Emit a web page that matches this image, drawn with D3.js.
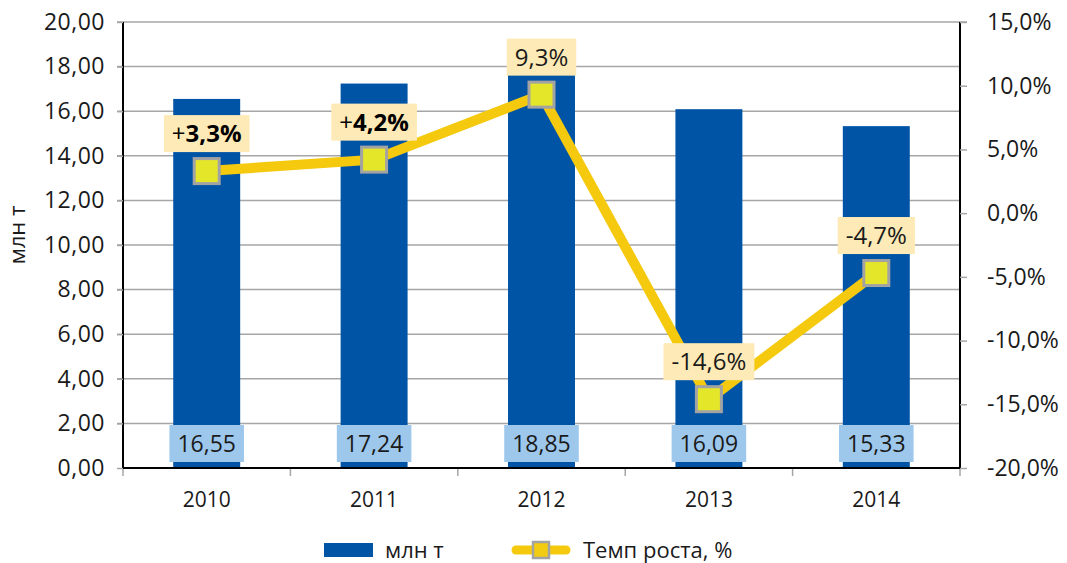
<!DOCTYPE html>
<html><head><meta charset="utf-8">
<script src="https://cdn.jsdelivr.net/npm/d3@7"></script>
<style>html,body{margin:0;padding:0;background:#fff;} svg{display:block;font-family:"Open Sans",sans-serif;}</style>
</head><body>
<svg id="c" width="1067" height="563"></svg>
<script>
const years = ["2010", "2011", "2012", "2013", "2014"];
const volumes = [16.55, 17.24, 18.85, 16.09, 15.33];
const growth = [3.3, 4.2, 9.3, -14.6, -4.7];
const growthPrefix = ["+", "+", "", "", ""];
const growthBold = [true, true, false, false, false];
const leftTicks = [0, 2, 4, 6, 8, 10, 12, 14, 16, 18, 20];
const rightTicks = [-20, -15, -10, -5, 0, 5, 10, 15];
const seriesNames = ["млн т", "Темп роста, %"];
const axisTitle = "млн т";

const loc = d3.formatLocale({decimal: ",", thousands: " ", grouping: [3], currency: ["", ""], minus: "-"});
const f2 = loc.format(".2f");
const f1 = loc.format(".1f");

const svg = d3.select("#c");
const L = 123, R = 960, T = 22, B = 468;

const x = d3.scaleBand().domain(years).range([L, R]).paddingInner(0.6).paddingOuter(0.3);
const y = d3.scaleLinear().domain([0, 20]).range([B, T]);
const y2 = d3.scaleLinear().domain([-20, 15]).range([B, T]);

const C = {bar: "#0054A6", line: "#F4C90E", grid: "#A6A6A6", valBox: "#9DC8EC", pctBox: "#FEEAB6", mk: "#E4E62A", mkStroke: "#A3A3A3", text: "#1a1a1a"};

// gridlines
svg.append("g").selectAll("line").data(leftTicks.filter(d => d > 0)).join("line")
  .attr("x1", L - 6).attr("x2", d => d === 20 ? R + 7 : R)
  .attr("y1", d => y(d)).attr("y2", d => y(d))
  .attr("stroke", C.grid).attr("stroke-width", 1.5);

// bars
svg.append("g").selectAll("rect").data(years).join("rect")
  .attr("x", d => x(d)).attr("width", x.bandwidth())
  .attr("y", (d, i) => y(volumes[i])).attr("height", (d, i) => B - y(volumes[i]))
  .attr("fill", C.bar);

// left axis
const gl = svg.append("g").attr("transform", `translate(${L},0)`)
  .call(d3.axisLeft(y).tickValues(leftTicks).tickFormat(f2).tickSize(6).tickPadding(12));
gl.select(".domain").attr("stroke", "#000").attr("stroke-width", 2).attr("d", `M0,${B}V${T}`);
gl.selectAll(".tick line").attr("stroke", C.grid).attr("stroke-width", 1.5);
gl.selectAll(".tick text").attr("font-size", 23).attr("fill", C.text).attr("font-family", "Open Sans").style("letter-spacing", "0.5px");

// right axis
const gr = svg.append("g").attr("transform", `translate(${R},0)`)
  .call(d3.axisRight(y2).tickValues(rightTicks).tickFormat(d => f1(d) + "%").tickSize(7).tickPadding(20));
gr.select(".domain").attr("stroke", "#000").attr("stroke-width", 2).attr("d", `M0,${B}V${T}`);
gr.selectAll(".tick line").attr("stroke", C.grid).attr("stroke-width", 1.5);
gr.selectAll(".tick text").attr("font-size", 23).attr("fill", C.text).attr("font-family", "Open Sans");

// bottom axis
const step = x.step();
const gb = svg.append("g").attr("transform", `translate(0,${B})`)
  .call(d3.axisBottom(x).tickSize(0).tickPadding(24));
gb.select(".domain").attr("stroke", "#000").attr("stroke-width", 2).attr("d", `M${L},0H${R}`);
gb.selectAll(".tick text").attr("font-size", 21).attr("fill", C.text).attr("font-family", "Open Sans");
svg.append("g").selectAll("line").data(d3.range(years.length + 1)).join("line")
  .attr("x1", i => L + i * step).attr("x2", i => L + i * step)
  .attr("y1", B).attr("y2", B + 8).attr("stroke", C.grid).attr("stroke-width", 1.5);
svg.append("path").attr("d", `M${L},${B}H${R}`).attr("stroke", "#000").attr("stroke-width", 2);

// value labels
const vg = svg.append("g").selectAll("g").data(years).join("g");
vg.each(function (d, i) {
  const g = d3.select(this);
  const cx = x(d) + x.bandwidth() / 2, cy = 443.5;
  const rect = g.append("rect").attr("fill", C.valBox);
  const t = g.append("text").attr("x", cx).attr("y", cy + 0.357 * 23).attr("text-anchor", "middle")
    .attr("font-size", 23).attr("fill", C.text).text(f2(volumes[i]));
  const w = t.node().getComputedTextLength() + 16;
  rect.attr("x", cx - w / 2).attr("width", w).attr("y", cy - 18.5).attr("height", 37);
});

// line
const line = d3.line().x((d, i) => x(years[i]) + x.bandwidth() / 2).y(d => y2(d));
svg.append("path").datum(growth).attr("d", line).attr("fill", "none")
  .attr("stroke", C.line).attr("stroke-width", 10).attr("stroke-linejoin", "round");

// markers
svg.append("g").selectAll("rect").data(growth).join("rect")
  .attr("x", (d, i) => x(years[i]) + x.bandwidth() / 2 - 12.5)
  .attr("y", d => y2(d) - 12.5).attr("width", 25).attr("height", 25)
  .attr("fill", C.mk).attr("stroke", C.mkStroke).attr("stroke-width", 3);

// percent labels
const pg = svg.append("g").selectAll("g").data(growth).join("g");
pg.each(function (d, i) {
  const g = d3.select(this);
  const cx = x(years[i]) + x.bandwidth() / 2, cy = y2(d) - 37.5;
  const rect = g.append("rect").attr("fill", C.pctBox);
  const t = g.append("text").attr("x", cx).attr("y", cy + 0.357 * 24).attr("text-anchor", "middle")
    .attr("font-size", 24).attr("fill", growthBold[i] ? "#000" : C.text);
  if (growthPrefix[i]) t.append("tspan").text(growthPrefix[i]);
  t.append("tspan").attr("font-weight", growthBold[i] ? 700 : 400).text(f1(d) + "%");
  const w = t.node().getComputedTextLength() + 16;
  rect.attr("x", cx - w / 2).attr("width", w).attr("y", cy - 18.5).attr("height", 37);
});

// axis title
svg.append("text").attr("transform", "translate(25,235) rotate(-90)").attr("text-anchor", "middle")
  .attr("font-size", 22).attr("fill", C.text).text(axisTitle);

// legend
const lg = svg.append("g");
lg.append("rect").attr("x", 324).attr("y", 543).attr("width", 49).attr("height", 14).attr("fill", C.bar);
lg.append("text").attr("x", 385).attr("y", 558).attr("font-size", 22).attr("fill", C.text).text(seriesNames[0]);
lg.append("line").attr("x1", 516).attr("x2", 566).attr("y1", 550).attr("y2", 550)
  .attr("stroke", C.line).attr("stroke-width", 9).attr("stroke-linecap", "round");
lg.append("rect").attr("x", 533).attr("y", 542).attr("width", 16).attr("height", 16)
  .attr("fill", "#F2CC10").attr("stroke", C.mkStroke).attr("stroke-width", 2.5);
lg.append("text").attr("x", 583).attr("y", 558).attr("font-size", 22).attr("fill", C.text).text(seriesNames[1]);
</script>
</body></html>
